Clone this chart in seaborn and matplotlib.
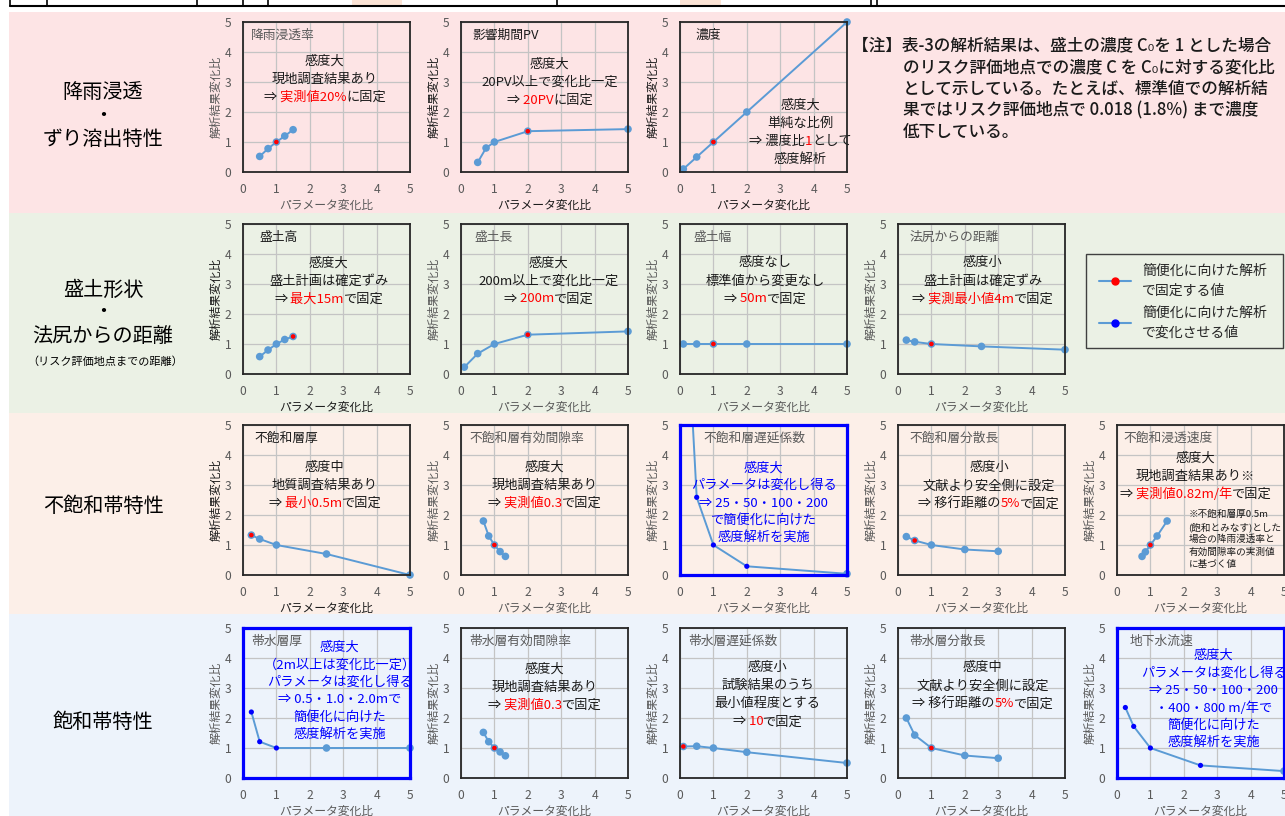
import re
import numpy as np
import pandas as pd
import matplotlib
matplotlib.use("Agg")
import matplotlib.pyplot as plt
from matplotlib.patches import Rectangle
from matplotlib.lines import Line2D
from matplotlib.offsetbox import HPacker, TextArea, AnnotationBbox
import seaborn as sns

sns.set_theme(style="white")
FONTS = ["Noto Sans CJK JP", "DejaVu Sans"]
plt.rcParams["font.family"] = FONTS

# ---------------- data: parameter ratio (x) vs. result ratio (y) ----------------
rain_x = [0.5, 0.75, 1.0, 1.25, 1.5]
rain_y = [0.52, 0.78, 1.0, 1.2, 1.41]
pv_x = [0.5, 0.75, 1.0, 2.0, 5.0]
pv_y = [0.32, 0.8, 1.0, 1.36, 1.43]
conc_x = [0.1, 0.5, 1.0, 2.0, 5.0]
conc_y = [0.1, 0.5, 1.0, 2.0, 5.0]

height_x = [0.5, 0.75, 1.0, 1.25, 1.5]
height_y = [0.58, 0.8, 1.0, 1.15, 1.25]
length_x = [0.1, 0.5, 1.0, 2.0, 5.0]
length_y = [0.23, 0.68, 1.0, 1.31, 1.42]
width_x = [0.1, 0.5, 1.0, 2.0, 5.0]
width_y = [1.0, 1.0, 1.0, 1.0, 1.0]
toe_x = [0.25, 0.5, 1.0, 2.5, 5.0]
toe_y = [1.13, 1.07, 1.0, 0.92, 0.81]

vz_thick_x = [0.25, 0.5, 1.0, 2.5, 5.0]
vz_thick_y = [1.33, 1.2, 1.0, 0.7, 0.0]
vz_por_x = [0.67, 0.83, 1.0, 1.17, 1.33]
vz_por_y = [1.8, 1.3, 1.0, 0.78, 0.62]
vz_ret_x = [0.1, 0.5, 1.0, 2.0, 5.0]
vz_ret_y = [10.9, 2.59, 1.0, 0.29, 0.04]
vz_disp_x = [0.25, 0.5, 1.0, 2.0, 3.0]
vz_disp_y = [1.28, 1.15, 1.0, 0.85, 0.79]
vz_vel_x = [0.75, 0.85, 1.0, 1.2, 1.5]
vz_vel_y = [0.62, 0.77, 1.0, 1.3, 1.8]

aq_thick_x = [0.25, 0.5, 1.0, 2.5, 5.0]
aq_thick_y = [2.2, 1.21, 1.0, 1.0, 1.0]
aq_por_x = [0.67, 0.83, 1.0, 1.17, 1.33]
aq_por_y = [1.52, 1.21, 1.0, 0.87, 0.74]
aq_ret_x = [0.1, 0.5, 1.0, 2.0, 5.0]
aq_ret_y = [1.05, 1.06, 1.0, 0.86, 0.5]
aq_disp_x = [0.25, 0.5, 1.0, 2.0, 3.0]
aq_disp_y = [2.0, 1.43, 1.0, 0.75, 0.66]
gw_x = [0.25, 0.5, 1.0, 2.5, 5.0]
gw_y = [2.35, 1.72, 1.0, 0.42, 0.23]

ticks = [0, 1, 2, 3, 4, 5]
row_labels = [
    ["降雨浸透", "・", "ずり溶出特性"],
    ["盛土形状", "・", "法尻からの距離"],
    ["不飽和帯特性"],
    ["飽和帯特性"],
]
row2_sub = "（リスク評価地点までの距離）"
legend_labels = ["簡便化に向けた解析\nで固定する値", "簡便化に向けた解析\nで変化させる値"]
note_lines = [
    "【注】表-3の解析結果は、盛土の濃度 C₀を 1 とした場合",
    "のリスク評価地点での濃度 C を C₀に対する変化比",
    "として示している。たとえば、標準値での解析結",
    "果ではリスク評価地点で 0.018 (1.8%) まで濃度",
    "低下している。",
]

# [..] marks the part written in red
panels = [
    dict(r=0, c=0, title="降雨浸透率", x=rain_x, y=rain_y, fixed=[1.0], varied=[],
         note=["感度大", "現地調査結果あり", "⇒ [実測値20%]に固定"], at=(2.45, 3.08), tx=0.05, dark=False),
    dict(r=0, c=1, title="影響期間PV", x=pv_x, y=pv_y, fixed=[2.0], varied=[],
         note=["感度大", "20PV以上で変化比一定", "⇒ [20PV]に固定"], at=(2.66, 2.98), tx=0.07, dark=True),
    dict(r=0, c=2, title="濃度", x=conc_x, y=conc_y, fixed=[1.0], varied=[],
         note=["感度大", "単純な比例", "⇒ 濃度比[1]として", "感度解析"], at=(3.6, 1.33), tx=0.09, dark=True),
    dict(r=1, c=0, title="盛土高", x=height_x, y=height_y, fixed=[1.5], varied=[],
         note=["感度大", "盛土計画は確定ずみ", "⇒ [最大15m]で固定"], at=(2.57, 3.1), tx=0.1, dark=True),
    dict(r=1, c=1, title="盛土長", x=length_x, y=length_y, fixed=[2.0], varied=[],
         note=["感度大", "200m以上で変化比一定", "⇒ [200m]で固定"], at=(2.63, 3.1), tx=0.08, dark=False),
    dict(r=1, c=2, title="盛土幅", x=width_x, y=width_y, fixed=[1.0], varied=[],
         note=["感度なし", "標準値から変更なし", "⇒ [50m]で固定"], at=(2.55, 3.1), tx=0.08, dark=False),
    dict(r=1, c=3, title="法尻からの距離", x=toe_x, y=toe_y, fixed=[1.0], varied=[],
         note=["感度小", "盛土計画は確定ずみ", "⇒ [実測最小値4m]で固定"], at=(2.54, 3.1), tx=0.07, dark=False),
    dict(r=2, c=0, title="不飽和層厚", x=vz_thick_x, y=vz_thick_y, fixed=[0.25], varied=[],
         note=["感度中", "地質調査結果あり", "⇒ [最小0.5m]で固定"], at=(2.45, 3.0), tx=0.066, dark=True),
    dict(r=2, c=1, title="不飽和層有効間隙率", x=vz_por_x, y=vz_por_y, fixed=[1.0], varied=[],
         note=["感度大", "現地調査結果あり", "⇒ [実測値0.3]で固定"], at=(2.5, 3.0), tx=0.05, dark=False),
    dict(r=2, c=2, title="不飽和層遅延係数", x=vz_ret_x, y=vz_ret_y, fixed=[], varied=[0.5, 1.0, 2.0],
         note=["感度大", "パラメータは変化し得る", "⇒ 25・50・100・200", "で簡便化に向けた", "感度解析を実施"],
         at=(2.5, 2.4), tx=0.14, dark=False, blue=True),
    dict(r=2, c=3, title="不飽和層分散長", x=vz_disp_x, y=vz_disp_y, fixed=[0.5], varied=[],
         note=["感度小", "文献より安全側に設定", "⇒ 移行距離の[5%]で固定"], at=(2.73, 2.97), tx=0.07, dark=False),
    dict(r=2, c=4, title="不飽和浸透速度", x=vz_vel_x, y=vz_vel_y, fixed=[1.0], varied=[],
         note=["感度大", "現地調査結果あり※", "⇒ [実測値0.82m/年]で固定"], at=(2.35, 3.3), tx=0.04, dark=False),
    dict(r=3, c=0, title="帯水層厚", x=aq_thick_x, y=aq_thick_y, fixed=[], varied=[0.25, 0.5, 1.0],
         note=["感度大", "（2m以上は変化比一定）", "パラメータは変化し得る", "⇒ 0.5・1.0・2.0mで",
               "簡便化に向けた", "感度解析を実施"], at=(2.9, 2.9), tx=0.05, dark=False, blue=True),
    dict(r=3, c=1, title="帯水層有効間隙率", x=aq_por_x, y=aq_por_y, fixed=[1.0], varied=[],
         note=["感度大", "現地調査結果あり", "⇒ [実測値0.3]で固定"], at=(2.5, 3.03), tx=0.05, dark=False),
    dict(r=3, c=2, title="帯水層遅延係数", x=aq_ret_x, y=aq_ret_y, fixed=[0.1], varied=[],
         note=["感度小", "試験結果のうち", "最小値程度とする", "⇒ [10]で固定"], at=(2.63, 2.77), tx=0.05, dark=False),
    dict(r=3, c=3, title="帯水層分散長", x=aq_disp_x, y=aq_disp_y, fixed=[1.0], varied=[],
         note=["感度中", "文献より安全側に設定", "⇒ 移行距離の[5%]で固定"], at=(2.54, 3.07), tx=0.07, dark=False),
    dict(r=3, c=4, title="地下水流速", x=gw_x, y=gw_y, fixed=[], varied=[0.25, 0.5, 1.0, 2.5],
         note=["感度大", "パラメータは変化し得る", "⇒ 25・50・100・200", "・400・800 m/年で",
               "簡便化に向けた", "感度解析を実施"], at=(2.9, 2.63), tx=0.076, dark=False, blue=True),
]
velocity_footnote = ["※不飽和層厚0.5m", "(飽和とみなす)とした", "場合の降雨浸透率と",
                     "有効間隙率の実測値", "に基づく値"]

# ---------------- styling ----------------
W, H = 1285, 816
ROW_BG = ["#fde4e5", "#ebf1e5", "#fcefe8", "#edf3fb"]
LINE = "#5b9bd5"
RED = "#ff0000"
BLUE = "#0000ff"
GREY = "#595959"
DARK = "#1a1a1a"
COL_LEFT = [243, 461, 680, 898, 1117]
ROW_TOP = [22, 224, 425, 628]
AX_W, AX_H = 167, 150
BAND = [(12, 213), (213, 413), (413, 614), (614, 816)]


def fx(x):
    return x / W


def fy(y):
    return 1 - y / H


def rich_line(ax, xy, text, base_color, size, dy_px, weight="normal"):
    parts = [p for p in re.split(r"(\[[^\]]*\])", text) if p]
    segs = []
    for p in parts:
        if p.startswith("["):
            segs.append([p[1:-1], RED])
        else:
            segs.append([p, base_color])
    # keep blanks at segment starts so they are measured
    for i in range(len(segs) - 1):
        s = segs[i][0]
        stripped = s.rstrip(" ")
        if len(stripped) < len(s):
            segs[i][0] = stripped
            segs[i + 1][0] = s[len(stripped):] + segs[i + 1][0]
    children = [TextArea(s, textprops=dict(color=c, size=size, weight=weight)) for s, c in segs if s]
    box = HPacker(children=children, align="baseline", pad=0, sep=0)
    ab = AnnotationBbox(box, xy, xycoords="data", xybox=(0, dy_px * 0.72),
                        boxcoords="offset points", frameon=False,
                        box_alignment=(0.5, 0.5), pad=0, annotation_clip=False, zorder=6)
    ax.add_artist(ab)


def block(ax, xy, lines, color, size=9.5, spacing=18):
    n = len(lines)
    for i, line in enumerate(lines):
        rich_line(ax, xy, line, color, size, ((n - 1) / 2 - i) * spacing)


fig = plt.figure(figsize=(W / 100, H / 100), dpi=100)
fig.patch.set_facecolor("white")

# coloured row bands
for (y0, y1), col in zip(BAND, ROW_BG):
    fig.add_artist(Rectangle((fx(9), fy(y1)), fx(W - 9), (y1 - y0) / H,
                             transform=fig.transFigure, facecolor=col, edgecolor="none", zorder=-10))

# bottom of the table above
fig.add_artist(Rectangle((fx(352), fy(6)), fx(50), 6 / H, transform=fig.transFigure,
                         facecolor="#fce4d6", edgecolor="none", zorder=-9))
fig.add_artist(Rectangle((fx(680), fy(6)), fx(41), 6 / H, transform=fig.transFigure,
                         facecolor="#fce4d6", edgecolor="none", zorder=-9))
fig.add_artist(Line2D([fx(10), 1], [fy(6), fy(6)], transform=fig.transFigure, color="black", lw=1.5))
for xv in [10, 47, 197, 243, 268, 557, 871, 877]:
    fig.add_artist(Line2D([fx(xv), fx(xv)], [fy(0), fy(6)], transform=fig.transFigure, color="black", lw=1.2))

# row headings
head_y = [[92, 116, 139], [290, 312, 337], [506], [722]]
for lines, ys in zip(row_labels, head_y):
    for t, yy in zip(lines, ys):
        fig.text(fx(103), fy(yy), t, ha="center", va="center", fontsize=14.5, color="black")
fig.text(fx(105), fy(362), row2_sub, ha="center", va="center", fontsize=8, color="black")

# note at the upper right
fig.text(fx(852), fy(45), note_lines[0], ha="left", va="center", fontsize=12, color=DARK, weight="medium")
for i, t in enumerate(note_lines[1:]):
    fig.text(fx(903), fy(67 + 21.7 * i), t, ha="left", va="center", fontsize=12, color=DARK, weight="medium")

for p in panels:
    left, top = COL_LEFT[p["c"]], ROW_TOP[p["r"]]
    ax = fig.add_axes([fx(left), fy(top + AX_H), AX_W / W, AX_H / H])
    ax.set_facecolor(ROW_BG[p["r"]])
    df = pd.DataFrame({"x": p["x"], "y": p["y"]})

    sns.lineplot(data=df, x="x", y="y", ax=ax, color=LINE, lw=1.4, estimator=None, sort=False, zorder=3)
    shown = df[df["y"] <= 5]
    plain = shown[~shown["x"].isin(p["varied"])]
    sns.scatterplot(data=plain, x="x", y="y", ax=ax, color=LINE, s=30, edgecolor="none",
                    clip_on=False, zorder=4)
    fixed = shown[shown["x"].isin(p["fixed"])]
    if len(fixed):
        sns.scatterplot(data=fixed, x="x", y="y", ax=ax, color=RED, s=11, edgecolor="none",
                        clip_on=False, zorder=5)
    varied = shown[shown["x"].isin(p["varied"])]
    if len(varied):
        sns.scatterplot(data=varied, x="x", y="y", ax=ax, color=BLUE, s=14, edgecolor="none",
                        clip_on=False, zorder=5)

    ax.set_xlim(0, 5)
    ax.set_ylim(0, 5)
    ax.set_xticks(ticks)
    ax.set_yticks(ticks)
    ax.grid(True, color="#c4c4c4", lw=0.9)
    ax.set_axisbelow(True)
    ax.tick_params(length=0, labelsize=8.7, labelcolor=GREY, pad=8.2)
    lab_col = DARK if p["dark"] else GREY
    ax.set_xlabel("パラメータ変化比", fontsize=8.5, color=lab_col, labelpad=1.5)
    ax.set_ylabel("解析結果変化比", fontsize=8.5, color=lab_col, labelpad=2)

    is_blue = p.get("blue", False)
    for sp in ax.spines.values():
        sp.set_visible(True)
        sp.set_color(BLUE if is_blue else "#262626")
        sp.set_linewidth(2.3 if is_blue else 1.3)
        sp.set_zorder(7)

    ax.text(p["tx"], 0.91, p["title"], transform=ax.transAxes, ha="left", va="center",
            fontsize=9.2, color=DARK if p["dark"] else GREY, zorder=6)
    block(ax, p["at"], p["note"], BLUE if is_blue else DARK,
          spacing=17.5 if is_blue else 18)

    if p["title"] == "不飽和浸透速度":
        for i, t in enumerate(velocity_footnote):
            ax.text(2.14, 1.18 + (2 - i) * 12.5 / 30, t, ha="left", va="center",
                    fontsize=6.9, color=DARK, zorder=6, clip_on=False)

# legend
fig.add_artist(Rectangle((fx(1086), fy(348)), fx(1283 - 1086), (348 - 254) / H,
                         transform=fig.transFigure, facecolor=ROW_BG[1], edgecolor="#404040",
                         lw=1.0, zorder=1))
handles = [
    Line2D([0], [0], color=LINE, lw=1.5, marker="o", markersize=5, markerfacecolor=RED, markeredgecolor=RED),
    Line2D([0], [0], color=LINE, lw=1.5, marker="o", markersize=5, markerfacecolor=BLUE, markeredgecolor=BLUE),
]
leg = fig.legend(handles, legend_labels, loc="upper left", bbox_to_anchor=(fx(1099), fy(264)),
                 frameon=False, fontsize=10, handlelength=2.3, handletextpad=0.8,
                 labelspacing=0.6, borderpad=0, borderaxespad=0)
for t in leg.get_texts():
    t.set_linespacing(1.5)
leg.set_zorder(2)

fig.savefig("out.png", dpi=100, facecolor="white")
